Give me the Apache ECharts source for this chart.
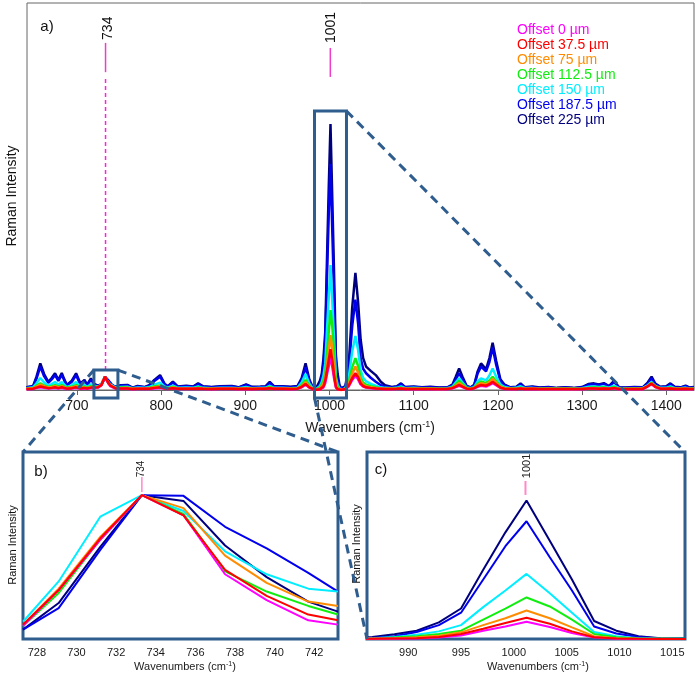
<!DOCTYPE html>
<html><head><meta charset="utf-8">
<script src="https://cdn.jsdelivr.net/npm/echarts@6/dist/echarts.min.js"></script>
<style>html,body{margin:0;padding:0;background:#fff}#c{width:699px;height:677px}</style>
</head><body><div id="c"></div>
<script>
// ---------- data ----------
const seriesNames = ['Offset 0 µm','Offset 37.5 µm','Offset 75 µm','Offset 112.5 µm','Offset 150 µm','Offset 187.5 µm','Offset 225 µm'];
const seriesColors = ['#FF00FF','#FF0000','#FF8C00','#10EE10','#00EEFF','#0000EE','#00007F'];

const mainTicks = [700,800,900,1000,1100,1200,1300,1400];
const bTicks = [728,730,732,734,736,738,740,742];
const cTicks = [990,995,1000,1005,1010,1015];

const mainWn = [
 640,648,652,656.5,661,666,670,674,678,682,
 685,688,694,699,704,709,712,716.6,721,725,
 729.1,731.2,733.3,735.4,737.5,739.6,741.7,746,752,760,
 766,772,780,786,792,798.8,804,808,814,820,
 830,838,844,850,860,870,884,892,901,908,
 918,924,929,934,944,954,962,967,971.6,976,
 980,984.5,986.6,988.7,990.8,992.9,995.0,997.1,999.2,1001.2,
 1003.4,1005.5,1007.6,1009.7,1011.8,1013.9,1016.0,1019,1023,1027,
 1030.8,1034,1037,1040,1043.5,1049,1055,1061,1066,1074,
 1080,1085,1090,1100,1110,1120,1130,1140,1146,1150,
 1154,1158,1163,1168,1172,1176,1180,1186,1190,1193.8,
 1198,1203,1208,1215,1222,1227,1232,1241,1250,1260,
 1270,1280,1290,1300,1308,1314,1320,1326,1332,1338,
 1344,1352,1362,1372,1378,1382.6,1387,1393,1400,1405,
 1410,1417,1423,1428,1433];

const navy225 = [
 1.0,1.5,5,10,6,3.1,4.5,6.3,3.8,6.4,
 4,1.9,3.5,6.3,2.5,3.8,1.9,4.4,2.2,1.6,
 2.2,3.4,5.0,4.4,2.9,2.0,1.5,1.2,1.8,1.9,
 0.9,1.5,1.1,1.8,3.8,5.6,2.4,1.4,3.1,1.3,
 1.6,1.3,2.5,1.4,1.1,1.4,1.5,1.0,2.1,1.2,
 1.3,1.4,3.1,1.5,1.4,1.2,1.5,4.5,10,4.0,
 1.0,0.9,1.4,3.5,6,12,22,50,77,100,
 71,43,13,6,2,0.6,0.3,1.5,10,31,
 44,33,19,12,8.8,7.2,5.6,3.1,1.8,1.1,
 1.4,2.5,1.1,1.3,1.0,1.2,0.9,1.0,2.0,5.0,
 8.1,5.0,1.5,1.0,2.0,7.0,10,7.8,12,17.8,
 11,4.0,2.0,1.0,1.2,2.5,1.0,1.3,0.9,1.1,
 0.8,1.0,0.8,1.1,2.3,2.5,2.1,2.6,1.5,3.4,
 1.0,0.9,1.1,1.0,2.8,5.0,2.4,1.2,1.4,2.5,
 1.2,1.0,1.6,0.9,1.1];
const blue1875 = [
 0.9,1.3,4.3,8.8,5.2,2.7,4.0,5.6,3.4,5.7,
 3.6,1.7,3.1,5.6,2.2,3.4,1.7,3.9,2.0,1.4,
 2.0,3.2,4.9,4.8,3.6,2.8,2.0,1.1,1.6,1.7,
 0.8,1.3,1.0,1.6,3.4,5.0,2.1,1.2,2.8,1.1,
 1.4,1.1,2.2,1.2,1.0,1.2,1.3,0.9,1.9,1.0,
 1.1,1.2,2.7,1.3,1.2,1.0,1.3,3.9,8.5,3.4,
 0.9,0.6,0.7,2,5,10,19,43,67,85,
 59,35,9,4,1.4,0.4,0.2,1.2,8,24,
 34,25,12,8,6.3,4.6,3.1,1.8,1.2,0.9,
 1.2,2.2,1.0,1.1,0.9,1.0,0.8,0.9,1.7,4.0,
 6.3,4.0,1.3,0.9,1.8,6.2,8.8,7.0,10.5,16,
 9.5,3.4,1.7,0.9,1.0,2.2,0.9,1.1,0.8,1.0,
 0.7,0.9,0.7,1.0,2.0,2.2,1.9,2.3,1.3,3.0,
 0.9,0.8,1.0,0.9,2.5,4.4,2.1,1.0,1.2,2.2,
 1.0,0.9,1.4,0.8,1.0];
const cyan150 = [
 0.7,1.0,2.5,4.5,2.8,1.6,2.2,3.0,2.0,3.0,
 2.0,1.1,1.8,3.0,1.4,2.0,1.1,2.2,1.5,1.3,
 2.1,3.8,4.7,4.2,2.9,2.1,1.6,0.9,1.1,1.2,
 0.7,0.9,0.8,1.1,2.0,2.8,1.3,0.9,1.6,0.8,
 0.9,0.8,1.3,0.8,0.7,0.8,0.8,0.7,1.1,0.7,
 0.8,0.8,1.6,0.8,0.8,0.7,0.8,2.8,6.0,2.4,
 0.7,0.4,0.5,1.5,3,5.5,10,23,35,47,
 33,19,5,2,0.6,0.2,0.1,0.8,5,14.5,
 20.3,15,7.5,4.6,3.3,2.3,1.6,1.0,0.8,0.7,
 0.8,1.3,0.7,0.8,0.7,0.7,0.6,0.7,1.2,2.8,
 4.4,2.8,0.9,0.7,1.2,3.2,4.4,3.6,5.5,8.1,
 5.0,2.0,1.1,0.7,0.8,1.4,0.7,0.8,0.6,0.7,
 0.6,0.7,0.6,0.7,1.2,1.3,1.1,1.3,0.9,1.6,
 0.7,0.6,0.7,0.7,1.8,3.0,1.5,0.8,0.8,1.3,
 0.7,0.7,0.9,0.6,0.7];
const green1125 = [
 0.6,0.8,1.6,2.5,1.7,1.1,1.4,1.8,1.3,1.8,
 1.3,0.9,1.2,1.8,1.0,1.3,0.9,1.4,1.2,1.2,
 1.9,3.4,4.7,4.2,2.5,1.8,1.3,0.8,0.9,0.9,
 0.6,0.7,0.7,0.8,1.3,1.7,1.0,0.7,1.1,0.7,
 0.7,0.7,0.9,0.7,0.6,0.7,0.7,0.6,0.8,0.6,
 0.7,0.7,1.1,0.7,0.7,0.6,0.7,1.9,3.8,1.6,
 0.6,0.3,0.3,1,2,3.6,6,14,22,30,
 23.5,14,3.6,1.2,0.4,0.1,0.1,0.6,3,8.5,
 12,9,4.6,2.8,2.0,1.4,1.0,0.7,0.6,0.6,
 0.7,0.9,0.6,0.6,0.6,0.6,0.5,0.6,1.0,2.2,
 3.4,2.2,0.8,0.6,1.0,2.3,3.2,2.6,3.6,5.0,
 3.3,1.4,0.8,0.6,0.6,0.9,0.6,0.7,0.5,0.6,
 0.5,0.6,0.5,0.6,0.8,0.9,0.8,0.9,0.7,1.0,
 0.6,0.5,0.6,0.6,1.6,2.7,1.4,0.7,0.7,0.9,
 0.6,0.6,0.7,0.5,0.6];
const orange75 = [
 0.5,0.7,1.3,2.0,1.4,0.9,1.1,1.4,1.0,1.4,
 1.0,0.7,1.0,1.4,0.8,1.0,0.7,1.1,1.0,1.1,
 1.9,3.5,4.8,4.3,2.7,1.9,1.3,0.7,0.7,0.8,
 0.5,0.6,0.6,0.7,1.0,1.3,0.8,0.6,0.9,0.6,
 0.6,0.6,0.7,0.6,0.5,0.6,0.6,0.5,0.7,0.5,
 0.6,0.6,0.9,0.6,0.6,0.5,0.6,1.5,3.0,1.3,
 0.5,0.2,0.2,0.6,1.2,2.4,4.8,10,15,20.6,
 15,8.4,2,0.6,0.2,0.1,0,0.5,2.3,6.2,
 8.8,6.6,3.4,2.0,1.4,1.0,0.8,0.6,0.5,0.5,
 0.6,0.7,0.5,0.5,0.5,0.5,0.4,0.5,0.8,1.7,
 2.6,1.7,0.6,0.5,0.8,1.9,2.6,2.1,3.0,4.2,
 2.8,1.2,0.7,0.5,0.5,0.7,0.5,0.6,0.4,0.5,
 0.4,0.5,0.4,0.5,0.7,0.7,0.6,0.7,0.5,0.8,
 0.5,0.4,0.5,0.5,1.5,2.5,1.3,0.6,0.6,0.7,
 0.5,0.5,0.6,0.4,0.5];
const red375 = [
 0.4,0.5,0.9,1.3,1.0,0.7,0.8,1.0,0.7,1.0,
 0.8,0.5,0.7,1.0,0.6,0.8,0.6,0.9,0.9,1.0,
 1.9,3.5,5.0,4.3,2.6,1.7,1.1,0.6,0.6,0.6,
 0.4,0.5,0.5,0.5,0.8,1.0,0.6,0.5,0.7,0.5,
 0.5,0.5,0.6,0.5,0.4,0.5,0.5,0.4,0.5,0.4,
 0.5,0.5,0.7,0.5,0.5,0.4,0.5,1.2,2.3,1.0,
 0.4,0.1,0.1,0.3,0.5,1.4,3.6,7.4,11.5,15.3,
 11,5.5,1.2,0.3,0.1,0,0,0.4,1.7,4.5,
 6.3,4.8,2.5,1.5,1.0,0.8,0.6,0.5,0.4,0.4,
 0.5,0.6,0.4,0.4,0.4,0.4,0.4,0.4,0.7,1.3,
 1.9,1.3,0.5,0.4,0.7,1.4,1.9,1.6,2.2,3.1,
 2.1,0.9,0.5,0.4,0.4,0.6,0.4,0.5,0.4,0.4,
 0.4,0.4,0.4,0.4,0.6,0.6,0.5,0.6,0.5,0.7,
 0.4,0.4,0.4,0.4,1.4,2.4,1.2,0.5,0.5,0.6,
 0.4,0.4,0.5,0.4,0.4];
const magenta0 = [
 0.3,0.4,0.8,1.0,0.8,0.6,0.7,0.8,0.6,0.8,
 0.6,0.4,0.6,0.8,0.5,0.6,0.5,0.7,0.8,0.9,
 1.8,3.4,4.8,4.1,2.4,1.5,0.9,0.5,0.5,0.5,
 0.3,0.4,0.4,0.4,0.6,0.8,0.5,0.4,0.6,0.4,
 0.4,0.4,0.5,0.4,0.3,0.4,0.4,0.3,0.4,0.3,
 0.4,0.4,0.6,0.4,0.4,0.3,0.4,1.0,2.0,0.9,
 0.3,0.1,0.1,0.2,0.4,1.0,2.6,6,9,12.5,
 8.6,4.3,1.0,0.2,0,0,0,0.3,1.4,3.8,
 5.4,4.0,2.1,1.3,0.9,0.7,0.5,0.4,0.3,0.3,
 0.4,0.5,0.3,0.3,0.3,0.3,0.3,0.3,0.6,1.1,
 1.6,1.1,0.4,0.3,0.6,1.2,1.6,1.3,1.9,2.6,
 1.8,0.8,0.4,0.3,0.3,0.5,0.3,0.4,0.3,0.3,
 0.3,0.3,0.3,0.3,0.5,0.5,0.4,0.5,0.4,0.6,
 0.3,0.3,0.3,0.3,1.3,2.2,1.1,0.4,0.4,0.5,
 0.3,0.3,0.4,0.3,0.3];

// panel b (normalised at 734 peak)
const bWn = [727.3,729.1,731.2,733.3,735.4,737.5,739.6,741.7,743.2];
const bMagenta0 = [9,34,69,100,86,45,27,13,10];
const bRed375 = [10,34,70,100,86,48,30,17,13];
const bOrange75 = [10,35,71,100,91,58,39,26,23];
const bGreen1125 = [9,32,69,100,87,47,33,23,17];
const bCyan150 = [12,40,85,100,89,61,45,35,33];
const bBlue1875 = [6.5,21.5,62,100,99.5,78,63,46,33];
const bNavy225 = [6.5,25,64,100,96,65,43,26,19];

// ---------- chart ----------
const FONT = '"Liberation Sans", Arial, Helvetica, sans-serif';
const BOXC = '#2F5D8E';
const chart = echarts.init(document.getElementById('c'));
const mainData = [magenta0, red375, orange75, green1125, cyan150, blue1875, navy225];
const bData = [bMagenta0, bRed375, bOrange75, bGreen1125, bCyan150, bBlue1875, bNavy225];
const order = [6,5,4,3,2,0,1];
const zip = (xs, ys) => xs.map((x, i) => [x, ys[i]]);

const series = [];
function addSeries(ax, xs, arrs, w) {
  order.forEach(k => series.push({
    type: 'line', name: seriesNames[k], xAxisIndex: ax, yAxisIndex: ax,
    data: zip(xs, arrs[k]), symbol: 'none', showSymbol: false, clip: true,
    lineStyle: { color: seriesColors[k], width: w }, itemStyle: { color: seriesColors[k] },
    silent: true, animation: false
  }));
}
addSeries(0, mainWn, mainData, 2.5);
addSeries(1, bWn, bData, 2);
addSeries(2, mainWn, mainData, 2);

const lbl = (vals, fs) => ({ customValues: vals, fontSize: fs, color: '#1a1a1a', fontFamily: FONT,
  margin: fs > 12 ? 9 : 8, formatter: v => String(v) });

chart.setOption({
  animation: false,
  backgroundColor: '#fff',
  grid: [
    { left: 27, top: 3, width: 667, height: 387, show: true, borderColor: '#666', borderWidth: 1 },
    { left: 23, top: 452, width: 315, height: 187, show: true, borderColor: BOXC, borderWidth: 3 },
    { left: 367, top: 452, width: 318, height: 187, show: true, borderColor: BOXC, borderWidth: 3 }
  ],
  xAxis: [
    { type: 'value', gridIndex: 0, min: 640.7, max: 1433,
      axisLine: { show: true, lineStyle: { color: '#666' } },
      axisTick: { show: true, length: 5, lineStyle: { color: '#666' }, customValues: mainTicks },
      axisLabel: lbl(mainTicks, 14), splitLine: { show: false } },
    { type: 'value', gridIndex: 1, min: 727.3, max: 743.2,
      axisLine: { show: false }, axisTick: { show: false },
      axisLabel: lbl(bTicks, 11), splitLine: { show: false } },
    { type: 'value', gridIndex: 2, min: 986.1, max: 1016.2,
      axisLine: { show: false }, axisTick: { show: false },
      axisLabel: lbl(cTicks, 11), splitLine: { show: false } }
  ],
  yAxis: [
    { type: 'value', gridIndex: 0, min: 0, max: 145.5, show: false },
    { type: 'value', gridIndex: 1, min: 0, max: 130, show: false },
    { type: 'value', gridIndex: 2, min: 0, max: 135, show: false }
  ],
  series: series
});

const P = (ax, v) => chart.convertToPixel({ xAxisIndex: ax, yAxisIndex: ax }, v);
const g = [];
function line(a, b, color, w, dash, z) {
  g.push({ type: 'line', z: z || 50, silent: true,
    shape: { x1: a[0], y1: a[1], x2: b[0], y2: b[1] },
    style: { stroke: color, lineWidth: w, lineDash: dash || null } });
}
function text(x, y, t, fs, color, rot, extra) {
  g.push(Object.assign({ type: 'text', x: x, y: y, rotation: rot || 0, z: 60, silent: true,
    style: { text: t, fontSize: fs, fontFamily: FONT, fill: color || '#1a1a1a', align: 'center', verticalAlign: 'middle' } }, extra || {}));
}
function rect(a, b) {
  g.push({ type: 'rect', z: 55, silent: true,
    shape: { x: Math.min(a[0], b[0]), y: Math.min(a[1], b[1]), width: Math.abs(b[0] - a[0]), height: Math.abs(b[1] - a[1]) },
    style: { fill: 'none', stroke: BOXC, lineWidth: 3 } });
}

// peak markers in panel a
const PINK = '#F03CC8';
line(P(0, [734, 119.5]), P(0, [734, 130.5]), PINK, 1.5);
line(P(0, [734, 7.5]), P(0, [734, 117.5]), '#FF22DD', 1.5, [4, 3]);
line(P(0, [1001, 117.7]), P(0, [1001, 128.6]), PINK, 1.5);
let p = P(0, [734, 136]); text(p[0] + 3, p[1], '734', 14, '#111', Math.PI / 2);
p = P(0, [1001, 136.3]); text(p[0] + 1, p[1], '1001', 14, '#111', Math.PI / 2);

// zoom boxes
const sbTL = P(0, [720.2, 7.5]), sbBR = P(0, [748.7, -3]);
rect(sbTL, sbBR);
const lbTL = P(0, [982.2, 104.9]), lbBR = P(0, [1020.2, -3]);
rect(lbTL, lbBR);

// connectors
const DASH = [9, 6];
line(sbTL, P(1, [727.3, 130]), BOXC, 3, DASH, 70);
line([sbBR[0], sbTL[1]], P(1, [743.2, 130]), BOXC, 3, DASH, 70);
line([lbBR[0], lbTL[1]], P(2, [1016.2, 135]), BOXC, 3, DASH, 70);
line([lbTL[0], lbBR[1]], P(2, [986.1, 0]), BOXC, 3, DASH, 70);

// panel b/c peak markers
const LPINK = '#FF88C8';
line(P(1, [733.3, 102.2]), P(1, [733.3, 112.6]), LPINK, 1.5);
p = P(1, [733.3, 118.2]); text(p[0] - 1, p[1], '734', 10, '#222', Math.PI / 2);
line(P(2, [1001.1, 104]), P(2, [1001.1, 114.1]), LPINK, 2);
p = P(2, [1001.1, 124.9]); text(p[0] + 1, p[1], '1001', 11, '#222', Math.PI / 2);

// panel labels
text(47, 27, 'a)', 15, '#111');
text(41, 472, 'b)', 15, '#111');
text(381, 470, 'c)', 15, '#111');

// axis names
const xname = (x, y, fs) => {
  g.push({ type: 'text', x: x, y: y, z: 60, silent: true,
    style: { text: 'Wavenumbers (cm{sup|-1})', fontSize: fs, fontFamily: FONT, fill: '#1a1a1a', align: 'center', verticalAlign: 'middle',
      rich: { sup: { fontSize: Math.round(fs * 0.65), fontFamily: FONT, fill: '#1a1a1a', padding: [0, 0, Math.round(fs * 0.5), 0] } } } });
};
xname(370, 428, 14);
xname(185, 667, 11);
xname(538, 667, 11);
text(12, 196, 'Raman Intensity', 14, '#111', Math.PI / 2);
text(13, 545, 'Raman Intensity', 11, '#111', Math.PI / 2);
text(357, 544, 'Raman Intensity', 11, '#111', Math.PI / 2);

// legend
seriesNames.forEach((n, i) => {
  g.push({ type: 'text', x: 517, y: 30 + 15 * i, z: 60, silent: true,
    style: { text: n, fontSize: 14, fontFamily: FONT, fill: seriesColors[i], align: 'left', verticalAlign: 'middle' } });
});

chart.setOption({ graphic: g });
</script>
</body></html>
